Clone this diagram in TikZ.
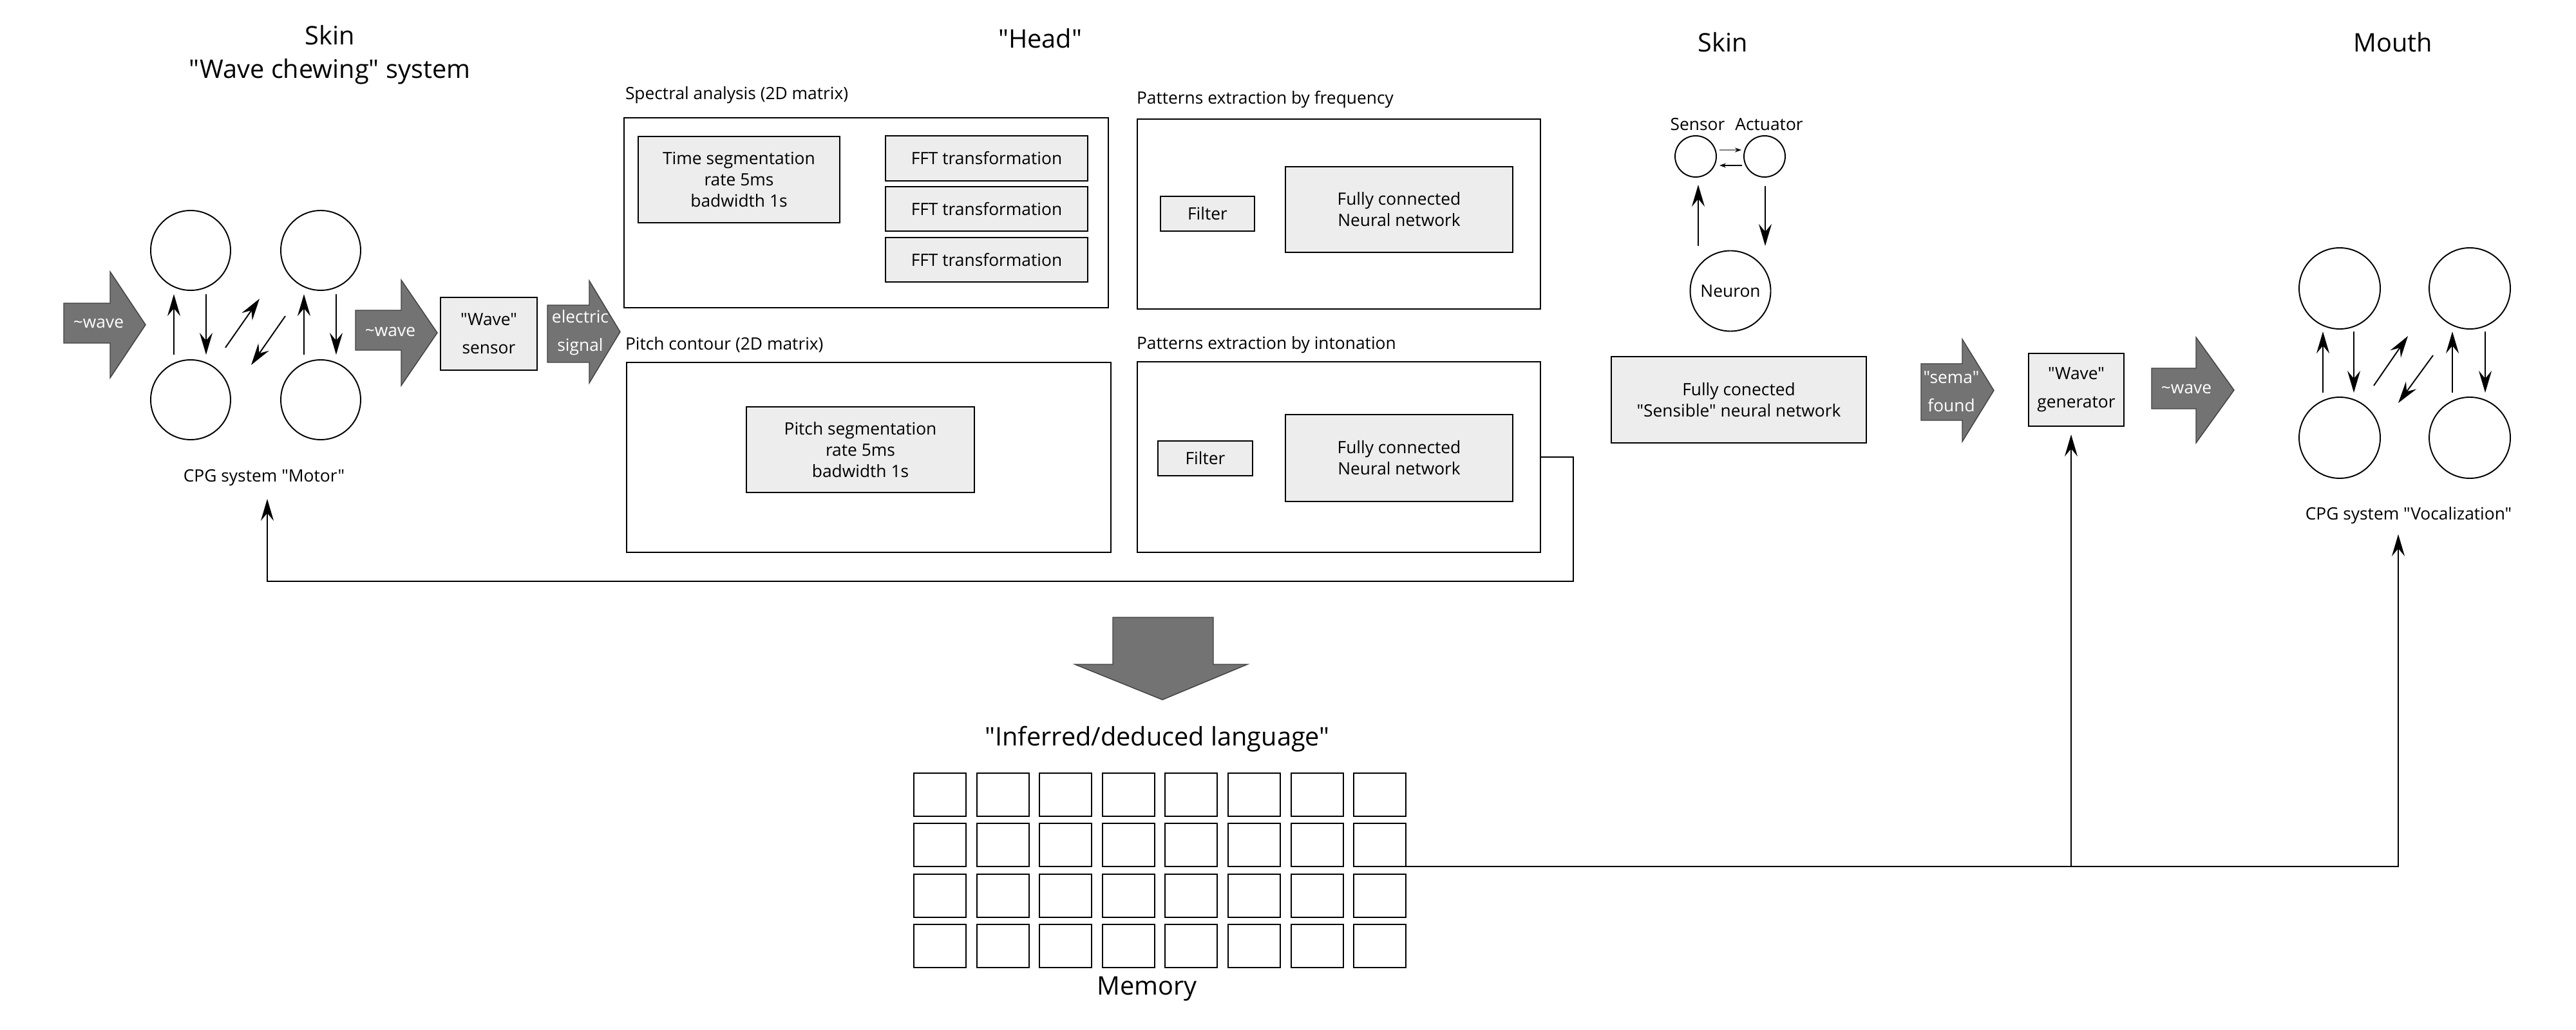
\documentclass[tikz,border=0pt]{standalone}
\usepackage{fontspec}
\setmainfont{Open Sans}
\newfontfamily\osans{Open Sans}
\usetikzlibrary{arrows.meta,calc}
\definecolor{arrgray}{HTML}{737373}
\definecolor{boxfill}{HTML}{EDEDED}
\begin{document}
\begin{tikzpicture}[
  every node/.style={inner sep=0pt, outer sep=0pt},
  ttl/.style={font=\osans\fontsize{11.3}{14.8}\selectfont, align=center},
  sfont/.style={font=\osans\fontsize{7.5}{9.4}\selectfont},
  lbl/.style={sfont, anchor=west},
  outerbox/.style={draw, line width=0.55pt, fill=white},
  gbox/.style={draw, line width=0.55pt, fill=boxfill, font=\osans\fontsize{7.5}{9.4}\selectfont, align=center},
  wbox/.style={gbox, font=\osans\fontsize{7.5}{12.5}\selectfont},
  cell/.style={draw, line width=0.6pt, fill=white, minimum width=0.81cm, minimum height=0.67cm},
  neur/.style={circle, draw, line width=0.55pt, minimum size=1.24cm},
  bigarrow/.style={fill=arrgray, draw=black!75, line width=0.4pt},
  arrtext/.style={text=white, font=\osans\fontsize{7.5}{12.5}\selectfont, align=center},
  arr/.style={line width=0.55pt, -{Stealth[length=3.4mm,width=2mm,inset=1.2mm]}},
  tinyarr/.style={line width=0.4pt, -{Stealth[length=1mm,width=0.7mm,color=black]}},
]
\useasboundingbox (0,0) rectangle (40,-16);

% ---------- titles
\node[ttl] (t1) at (5.12,-0.85) {Skin\\"Wave chewing" system};
\node[ttl] (t2) at (16.15,-0.60) {"Head"};
\node[ttl] (t3) at (26.75,-0.66) {Skin};
\node[ttl] (t4) at (37.16,-0.66) {Mouth};

% ---------- motor CPG
\node[neur] (mtl) at (2.96,-3.89) {};
\node[neur] (mtr) at (4.98,-3.89) {};
\node[neur] (mbl) at (2.96,-6.21) {};
\node[neur] (mbr) at (4.98,-6.21) {};
\draw[arr] ($(mbl)+(-0.26,0.70)$) -- ($(mtl)+(-0.26,-0.68)$);
\draw[arr] ($(mtl)+(0.24,-0.68)$) -- ($(mbl)+(0.24,0.70)$);
\draw[arr] ($(mbl)+(0.54,0.81)$) -- ($(mtr)+(-0.95,-0.75)$);
\draw[arr] ($(mtr)+(-0.55,-1.02)$) -- ($(mbl)+(0.94,0.54)$);
\draw[arr] ($(mbr)+(-0.26,0.70)$) -- ($(mtr)+(-0.26,-0.68)$);
\draw[arr] ($(mtr)+(0.24,-0.68)$) -- ($(mbr)+(0.24,0.70)$);
\node[sfont] (motorlbl) at (4.10,-7.42) {CPG system "Motor"};

% ---------- block arrows left
\draw[bigarrow] (0.99,-4.71) -- (1.71,-4.71) -- (1.71,-4.22) -- (2.26,-5.045) -- (1.71,-5.87) -- (1.71,-5.33) -- (0.99,-5.33) -- cycle;
\node[arrtext] (a1t) at (1.53,-5.02) {\textasciitilde wave};
\draw[bigarrow] (5.52,-4.82) -- (6.23,-4.82) -- (6.23,-4.35) -- (6.79,-5.17) -- (6.23,-5.99) -- (6.23,-5.44) -- (5.52,-5.44) -- cycle;
\node[arrtext] (a2t) at (6.06,-5.15) {\textasciitilde wave};
\node[wbox, minimum width=1.50cm, minimum height=1.13cm] (wsensor) at (7.59,-5.185) {"Wave"\\sensor};
\draw[bigarrow] (8.50,-4.74) -- (9.15,-4.74) -- (9.15,-4.36) -- (9.63,-5.155) -- (9.15,-5.95) -- (9.15,-5.63) -- (8.50,-5.63) -- cycle;
\node[arrtext] (a3t) at (9.01,-5.165) {electric\\signal};

% ---------- head boxes
\node[lbl] (l1) at (9.71,-1.48) {Spectral analysis (2D matrix)};
\node[outerbox, minimum width=7.52cm, minimum height=2.95cm] (spec) at (13.45,-3.305) {};
\node[gbox, minimum width=3.13cm, minimum height=1.34cm] (tseg) at (11.475,-2.79) {Time segmentation\\rate 5ms\\badwidth 1s};
\node[gbox, minimum width=3.14cm, minimum height=0.70cm] (fft1) at (15.32,-2.46) {FFT transformation};
\node[gbox, minimum width=3.14cm, minimum height=0.69cm] (fft2) at (15.32,-3.245) {FFT transformation};
\node[gbox, minimum width=3.14cm, minimum height=0.69cm] (fft3) at (15.32,-4.035) {FFT transformation};

\node[lbl] (l2) at (17.65,-1.55) {Patterns extraction by frequency};
\node[outerbox, minimum width=6.26cm, minimum height=2.95cm] (freqbox) at (20.79,-3.325) {};
\node[gbox, minimum width=1.46cm, minimum height=0.54cm] (filt1) at (18.75,-3.32) {Filter};
\node[gbox, minimum width=3.53cm, minimum height=1.33cm] (fc1) at (21.725,-3.255) {Fully connected\\Neural network};

\node[lbl] (l3) at (9.71,-5.36) {Pitch contour (2D matrix)};
\node[outerbox, minimum width=7.52cm, minimum height=2.95cm] (pitchbox) at (13.49,-7.105) {};
\node[gbox, minimum width=3.54cm, minimum height=1.33cm] (pseg) at (13.36,-6.985) {Pitch segmentation\\rate 5ms\\badwidth 1s};

\node[lbl] (l4) at (17.65,-5.36) {Patterns extraction by intonation};
\node[outerbox, minimum width=6.26cm, minimum height=2.96cm] (intbox) at (20.79,-7.10) {};
\node[gbox, minimum width=1.47cm, minimum height=0.54cm] (filt2) at (18.715,-7.12) {Filter};
\node[gbox, minimum width=3.53cm, minimum height=1.35cm] (fc2) at (21.725,-7.115) {Fully connected\\Neural network};

% feedback loop to motor CPG
\coordinate (loopc) at (24.43,-9.03);
\coordinate (mtip) at (4.15,-7.75);
\draw[arr] (intbox.east) -| (loopc) -| (mtip);

% ---------- big down arrow + memory
\draw[bigarrow] (17.28,-9.59) -- (18.84,-9.59) -- (18.84,-10.32) -- (19.37,-10.32) -- (18.05,-10.87) -- (16.69,-10.32) -- (17.28,-10.32) -- cycle;
\node[ttl] (inflbl) at (17.97,-11.48) {"Inferred/deduced language"};
\foreach \r in {1,...,4}{
  \foreach \c in {1,...,8}{
    \node[cell] (m-\r-\c) at ({14.595+(\c-1)*0.976},{-12.345-(\r-1)*0.783}) {};
  }
}
\node[ttl] (memlbl) at (17.81,-15.36) {Memory};

% ---------- skin (right)
\node[neur, minimum size=0.64cm] (sensor) at (26.33,-2.43) {};
\node[neur, minimum size=0.64cm] (actuator) at (27.40,-2.43) {};
\node[sfont] (sensorlbl) at (26.36,-1.93) {Sensor};
\node[sfont] (actlbl) at (27.47,-1.93) {Actuator};
\draw[tinyarr, draw=gray] ($(sensor)+(0.37,0.10)$) -- ($(actuator)+(-0.36,0.10)$);
\draw[tinyarr] ($(actuator)+(-0.35,-0.14)$) -- ($(sensor)+(0.37,-0.14)$);
\node[neur, minimum size=1.25cm, font=\osans\fontsize{7.5}{9.4}\selectfont] (neuron) at (26.87,-4.52) {Neuron};
\draw[arr] ($(neuron)+(-0.50,0.70)$) -- ($(sensor)+(0.04,-0.44)$);
\draw[arr] ($(actuator)+(0.01,-0.46)$) -- ($(neuron)+(0.54,0.70)$);
\node[gbox, minimum width=3.96cm, minimum height=1.34cm] (sensible) at (27.00,-6.21) {Fully conected\\"Sensible" neural network};

\draw[bigarrow] (29.83,-5.65) -- (30.47,-5.65) -- (30.47,-5.27) -- (30.96,-6.065) -- (30.47,-6.86) -- (30.47,-6.53) -- (29.83,-6.53) -- cycle;
\node[arrtext] (a4t) at (30.30,-6.08) {"sema"\\found};
\node[wbox, minimum width=1.48cm, minimum height=1.13cm] (wavegen) at (32.24,-6.055) {"Wave"\\generator};
\draw[bigarrow] (33.41,-5.72) -- (34.10,-5.72) -- (34.10,-5.24) -- (34.69,-6.06) -- (34.10,-6.88) -- (34.10,-6.35) -- (33.41,-6.35) -- cycle;
\node[arrtext] (a5t) at (33.95,-6.04) {\textasciitilde wave};

% ---------- mouth CPG
\node[neur, minimum size=1.26cm] (vtl) at (36.33,-4.48) {};
\node[neur, minimum size=1.26cm] (vtr) at (38.35,-4.48) {};
\node[neur, minimum size=1.26cm] (vbl) at (36.33,-6.80) {};
\node[neur, minimum size=1.26cm] (vbr) at (38.35,-6.80) {};
\draw[arr] ($(vbl)+(-0.26,0.70)$) -- ($(vtl)+(-0.26,-0.67)$);
\draw[arr] ($(vtl)+(0.22,-0.67)$) -- ($(vbl)+(0.22,0.70)$);
\draw[arr] ($(vbl)+(0.53,0.81)$) -- ($(vtr)+(-0.96,-0.74)$);
\draw[arr] ($(vtr)+(-0.57,-1.04)$) -- ($(vbl)+(0.91,0.54)$);
\draw[arr] ($(vbr)+(-0.27,0.70)$) -- ($(vtr)+(-0.27,-0.67)$);
\draw[arr] ($(vtr)+(0.24,-0.67)$) -- ($(vbr)+(0.24,0.70)$);
\node[sfont] (voclbl) at (37.40,-8.01) {CPG system "Vocalization"};

% ---------- memory connectors
\coordinate (vtip) at (37.24,-8.30);
\coordinate (wtip) at (32.16,-6.75);
\draw[arr] (m-2-8.south east) -| (vtip);
\draw[arr] (m-2-8.south east -| wtip) -- (wtip);
\end{tikzpicture}
\end{document}
